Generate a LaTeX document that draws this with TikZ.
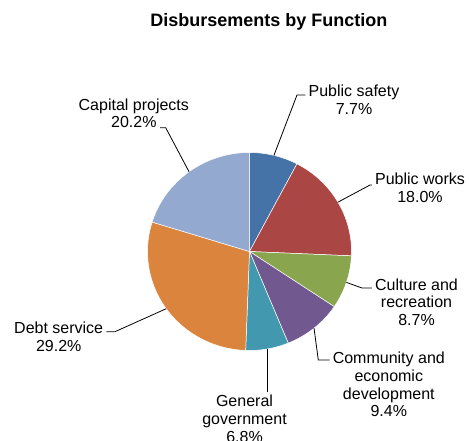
\documentclass[tikz,border=0pt]{standalone}
\usepackage{fontspec}
\setmainfont{Liberation Sans}
\usetikzlibrary{calc}
\definecolor{psblue}{HTML}{4572A7}
\definecolor{pwred}{HTML}{AA4643}
\definecolor{crgreen}{HTML}{89A54E}
\definecolor{cepurple}{HTML}{71588F}
\definecolor{ggcyan}{HTML}{4198AF}
\definecolor{dsorange}{HTML}{DB843D}
\definecolor{cplight}{HTML}{93A9CF}
\tikzset{
  slice/.style={draw=white, line width=0.5pt},
  lbl/.style={align=center, inner sep=3pt, anchor=north, font=\fontsize{16}{17.8}\selectfont},
  leader/.style={draw=black, line width=0.8pt},
}
\begin{document}
\begin{tikzpicture}[x=1pt,y=1pt]
		\useasboundingbox (0,0) rectangle (469,440);
		\clip (0,0) rectangle (469,440);
		\node[inner sep=3pt, anchor=north, font=\bfseries\fontsize{18}{21}\selectfont] (title) at (268.8,429.7) {Disbursements by Function};
		\coordinate (c) at (249.5,188.5);
		% slices, clockwise from the top
		\filldraw[slice, fill=psblue] (c) -- ++(90:102 and 99) arc[start angle=90, end angle=62.28, x radius=102, y radius=99] -- cycle;
		\filldraw[slice, fill=pwred] (c) -- ++(62.28:102 and 99) arc[start angle=62.28, end angle=-2.52, x radius=102, y radius=99] -- cycle;
		\filldraw[slice, fill=crgreen] (c) -- ++(-2.52:102 and 99) arc[start angle=-2.52, end angle=-33.84, x radius=102, y radius=99] -- cycle;
		\filldraw[slice, fill=cepurple] (c) -- ++(-33.84:102 and 99) arc[start angle=-33.84, end angle=-67.68, x radius=102, y radius=99] -- cycle;
		\filldraw[slice, fill=ggcyan] (c) -- ++(-67.68:102 and 99) arc[start angle=-67.68, end angle=-92.16, x radius=102, y radius=99] -- cycle;
		\filldraw[slice, fill=dsorange] (c) -- ++(-92.16:102 and 99) arc[start angle=-92.16, end angle=-197.28, x radius=102, y radius=99] -- cycle;
		\filldraw[slice, fill=cplight] (c) -- ++(-197.28:102 and 99) arc[start angle=-197.28, end angle=-270, x radius=102, y radius=99] -- cycle;
		% points on the rim where the leaders start
		\coordinate (ps-pt) at ($(c)+(76.14:102 and 99)$);
		\coordinate (pw-pt) at ($(c)+(29.88:102 and 99)$);
		\coordinate (cr-pt) at ($(c)+(-18.18:102 and 99)$);
		\coordinate (ce-pt) at ($(c)+(-50.76:102 and 99)$);
		\coordinate (gg-pt) at ($(c)+(-79.92:102 and 99)$);
		\coordinate (ds-pt) at ($(c)+(-144.72:102 and 99)$);
		\coordinate (cp-pt) at ($(c)+(126.36:102 and 99)$);
		% labels
		\node[lbl] (ps) at (354,358) {Public safety\\7.7\%};
		\node[lbl] (pw) at (420,270) {Public works\\18.0\%};
		\node[lbl] (cr) at (416.5,164.7) {Culture and\\recreation\\8.7\%};
		\node[lbl] (ce) at (388.8,91.3) {Community and\\economic\\development\\9.4\%};
		\node[lbl] (gg) at (244.5,48) {General\\government\\6.8\%};
		\node[lbl] (ds) at (58.7,121.3) {Debt service\\29.2\%};
		\node[lbl] (cp) at (133.8,344.7) {Capital projects\\20.2\%};
		% leaders
		\coordinate (ps-bend) at (297,345);
		\coordinate (pw-bend) at (370,255);
		\coordinate (cr-bend) at (362,152);
		\coordinate (ce-bend) at (318.3,80);
		\coordinate (ds-bend) at (115,108.3);
		\coordinate (cp-bend) at (165.7,312.3);
		\coordinate (cp-end) at (160,312.3);
		\draw[leader] (ps-pt) -- (ps-bend) -- (ps-bend -| ps.west);
		\draw[leader] (pw-pt) -- (pw-bend) -- (pw-bend -| pw.west);
		\draw[leader] (cr-pt) -- (cr-bend) -- (cr-bend -| cr.west);
		\draw[leader] (ce-pt) -- (ce-bend) -- (ce-bend -| ce.west);
		\draw[leader] (gg-pt) -- (gg-pt |- gg.north);
		\draw[leader] (ds-pt) -- (ds-bend) -- (ds-bend -| ds.east);
		\draw[leader] (cp-pt) -- (cp-bend) -- (cp-end);
\end{tikzpicture}
\end{document}
